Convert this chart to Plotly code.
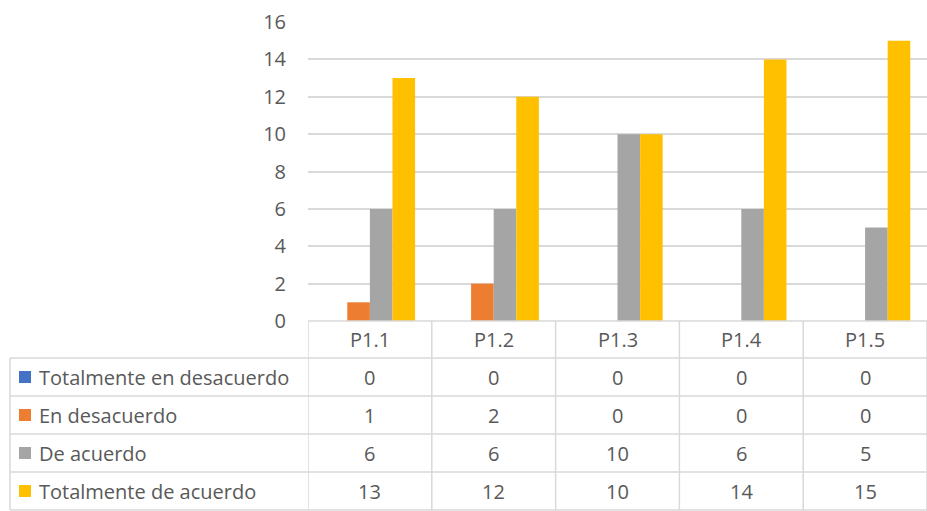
import plotly.graph_objects as go

categories = ["P1.1", "P1.2", "P1.3", "P1.4", "P1.5"]
series_names = ["Totalmente en desacuerdo", "En desacuerdo", "De acuerdo", "Totalmente de acuerdo"]
totalmente_desacuerdo = [0, 0, 0, 0, 0]
en_desacuerdo = [1, 2, 0, 0, 0]
de_acuerdo = [6, 6, 10, 6, 5]
totalmente_acuerdo = [13, 12, 10, 14, 15]
y_ticks = [0, 2, 4, 6, 8, 10, 12, 14, 16]

series_values = [totalmente_desacuerdo, en_desacuerdo, de_acuerdo, totalmente_acuerdo]
colors = ["#4472C4", "#ED7D31", "#A5A5A5", "#FFC000"]

W, H = 927, 511
def px(x): return x / W
def py(y): return (H - y) / H

TXT = "#595959"
GRID = "#D9D9D9"
FONT = "Open Sans"
FS = 20

x_idx = list(range(len(categories)))

fig = go.Figure()
for name, vals, c in zip(series_names, series_values, colors):
    fig.add_trace(go.Bar(x=x_idx, y=vals, name=name, marker_color=c,
                         marker_line_width=0, showlegend=False))

plot_left = 308
plot_bottom = 321
plot_top = 22

shapes = []
annotations = []

row_edges = [321, 358, 396, 434, 472, 510]
table_left = 10
shapes.append(dict(type="line", xref="paper", yref="paper", x0=px(plot_left), x1=1,
                   y0=py(row_edges[0]), y1=py(row_edges[0]), line=dict(color=GRID, width=1.5)))
for ye in row_edges[1:]:
    shapes.append(dict(type="line", xref="paper", yref="paper", x0=px(table_left), x1=1,
                       y0=py(ye), y1=py(ye), line=dict(color=GRID, width=1.5)))
for i in range(len(categories) + 1):
    shapes.append(dict(type="line", xref="x", yref="paper", x0=i - 0.5, x1=i - 0.5,
                       y0=py(row_edges[0]), y1=py(row_edges[-1]), line=dict(color=GRID, width=1.5)))
shapes.append(dict(type="line", xref="paper", yref="paper", x0=px(table_left), x1=px(table_left),
                   y0=py(row_edges[1]), y1=py(row_edges[-1]), line=dict(color=GRID, width=1.5)))

hc = (row_edges[0] + row_edges[1]) / 2
for i, cat in enumerate(categories):
    annotations.append(dict(x=i, y=py(hc), xref="x", yref="paper", text=cat, showarrow=False,
                            font=dict(family=FONT, size=FS, color=TXT), xanchor="center", yanchor="middle"))

for r, (name, vals, c) in enumerate(zip(series_names, series_values, colors)):
    yc = (row_edges[r + 1] + row_edges[r + 2]) / 2
    shapes.append(dict(type="rect", xref="paper", yref="paper", x0=px(19), x1=px(31),
                       y0=py(yc + 6), y1=py(yc - 6), fillcolor=c, line=dict(width=0)))
    annotations.append(dict(x=px(37), y=py(yc), xref="paper", yref="paper", text=name, showarrow=False,
                            font=dict(family=FONT, size=FS, color=TXT), xanchor="left", yanchor="middle"))
    for i, v in enumerate(vals):
        annotations.append(dict(x=i, y=py(yc), xref="x", yref="paper", text=str(v), showarrow=False,
                                font=dict(family=FONT, size=FS, color=TXT), xanchor="center", yanchor="middle"))

fig.update_layout(
    width=W, height=H,
    margin=dict(l=0, r=0, t=0, b=0, pad=0, autoexpand=False),
    paper_bgcolor="white", plot_bgcolor="white",
    barmode="group", bargap=0.27, bargroupgap=0,
    xaxis=dict(domain=[px(plot_left), 1], range=[-0.5, len(categories) - 0.5], automargin=False,
               showticklabels=False, showgrid=False, zeroline=False, showline=False, ticks=""),
    yaxis=dict(domain=[py(plot_bottom), py(plot_top)], range=[0, 16], tickvals=y_ticks, automargin=False,
               showgrid=True, gridcolor=GRID, gridwidth=1.5, zeroline=False, showline=False,
               tickfont=dict(family=FONT, size=FS, color=TXT), ticks="", ticklabelstandoff=21),
    shapes=shapes, annotations=annotations,
)

fig.write_html("out.html", config={"displayModeBar": False},
               post_script="document.body.style.margin='0';")
